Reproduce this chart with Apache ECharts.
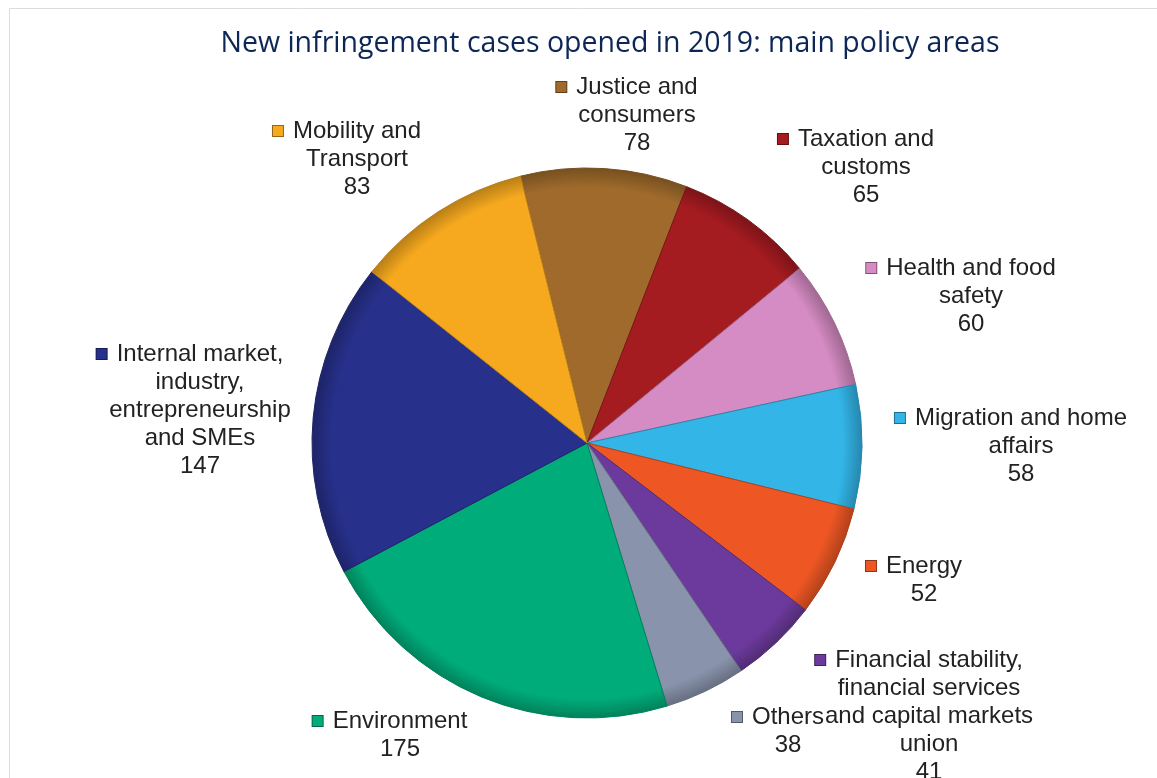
<!DOCTYPE html>
<html lang="en">
<head>
    <meta charset="UTF-8">
    <title>New infringement cases opened in 2019</title>
    <script src="https://cdn.jsdelivr.net/npm/echarts@6/dist/echarts.min.js"></script>
    <style>
        html, body { margin: 0; padding: 0; background: #fff; }
        #chart { width: 1157px; height: 778px; }
    </style>
</head>
<body>
    <div id="chart"></div>
    <script>
        // data, clockwise from the top
        var categories = [
            'Justice and\nconsumers',
            'Taxation and\ncustoms',
            'Health and food\nsafety',
            'Migration and home\naffairs',
            'Energy',
            'Financial stability,\nfinancial services\nand capital markets\nunion',
            'Others',
            'Environment',
            'Internal market,\nindustry,\nentrepreneurship\nand SMEs',
            'Mobility and\nTransport'
        ];
        var values = [78, 65, 60, 58, 52, 41, 38, 175, 147, 83];
        var colors = ['#9f6a2b', '#a41b20', '#d58bc3', '#33b5e8', '#ee5724',
                      '#6c3a9c', '#8994ac', '#00ad7a', '#27308a', '#f6a91e'];

        // label anchors (centre x, top y) to follow the original layout
        var labelPos = [
            [637, 73], [866, 125], [971, 254], [1021, 404], [924, 552],
            [929, 646], [788, 703], [400, 707], [200, 340], [357, 117]
        ];

        var cx = 587, cy = 443, R = 275;

        function shade(hex, f) {
            var n = parseInt(hex.slice(1), 16);
            var r = Math.min(255, Math.round(((n >> 16) & 255) * f));
            var g = Math.min(255, Math.round(((n >> 8) & 255) * f));
            var b = Math.min(255, Math.round((n & 255) * f));
            return 'rgb(' + r + ',' + g + ',' + b + ')';
        }

        var rich = {
            gap: { width: 10 },
            pad: { width: 20 }
        };
        colors.forEach(function (c, i) {
            rich['sq' + i] = {
                width: 10, height: 10,
                backgroundColor: c,
                borderColor: shade(c, 0.6),
                borderWidth: 1,
                verticalAlign: 'middle'
            };
        });

        var data = values.map(function (v, i) {
            var c = colors[i];
            return {
                name: categories[i],
                value: v,
                itemStyle: {
                    color: {
                        type: 'radial', x: cx, y: cy, r: R, global: true,
                        colorStops: [
                            { offset: 0, color: c },
                            { offset: 0.93, color: c },
                            { offset: 1, color: shade(c, 0.75) }
                        ]
                    },
                    borderColor: shade(c, 0.75)
                }
            };
        });

        var chart = echarts.init(document.getElementById('chart'));
        chart.setOption({
            backgroundColor: '#fff',
            animation: false,
            title: {
                text: 'New infringement cases opened in 2019: main policy areas',
                left: 605,
                top: 24,
                textAlign: 'center',
                textStyle: {
                    fontFamily: 'Open Sans',
                    fontWeight: 'normal',
                    fontSize: 28.5,
                    color: '#0c2756'
                }
            },
            graphic: [{
                type: 'rect',
                shape: { x: 9.5, y: 8.5, width: 1200, height: 900 },
                style: { fill: 'none', stroke: '#dcdcdc', lineWidth: 1 },
                silent: true
            }],
            series: [{
                type: 'pie',
                center: [cx, cy],
                radius: [0, R],
                startAngle: 104,
                clockwise: true,
                data: data,
                itemStyle: { borderWidth: 1 },
                label: {
                    show: true,
                    position: 'outside',
                    width: 300,
                    overflow: 'none',
                    fontFamily: 'Liberation Sans',
                    fontSize: 24,
                    lineHeight: 28,
                    color: '#222',
                    align: 'center',
                    rich: rich,
                    formatter: function (p) {
                        var lines = p.name.split('\n');
                        // square before the first line, balanced by an empty pad after it
                        lines[0] = '{sq' + p.dataIndex + '|}{gap| }' + lines[0] + '{pad| }';
                        lines.push(String(p.value));
                        return lines.join('\n');
                    }
                },
                labelLine: { show: false },
                labelLayout: function (p) {
                    var pos = labelPos[p.dataIndex];
                    return { x: pos[0], y: pos[1], align: 'center', verticalAlign: 'top' };
                }
            }]
        });
    </script>
</body>
</html>
